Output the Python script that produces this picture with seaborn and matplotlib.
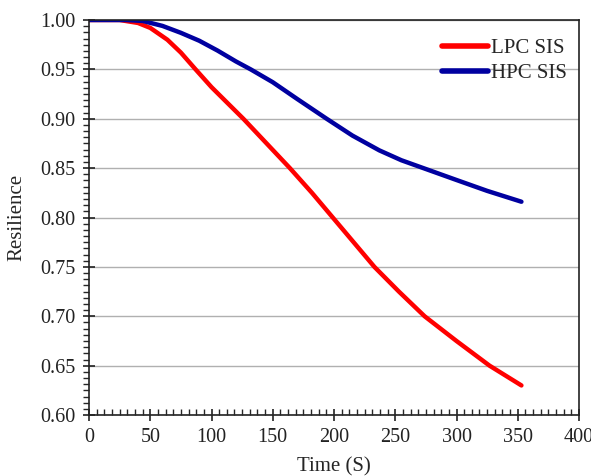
import pandas as pd
import seaborn as sns
import matplotlib.pyplot as plt
from matplotlib.ticker import AutoMinorLocator, MultipleLocator

# values
time_lpc = [0, 25, 40, 50, 64, 75, 87, 100, 113, 126, 145, 164, 182, 199, 216, 233, 253,
            274, 300, 327, 353]
res_lpc = [1.0, 1.0, 0.997, 0.992, 0.980, 0.967, 0.950, 0.932, 0.916, 0.900, 0.875, 0.850,
           0.825, 0.800, 0.775, 0.750, 0.725, 0.700, 0.675, 0.650, 0.630]
time_hpc = [0, 30, 44, 60, 75, 90, 105, 120, 132, 150, 170, 194, 215, 237, 255, 273, 300,
            325, 353]
res_hpc = [1.0, 1.0, 0.999, 0.994, 0.987, 0.979, 0.969, 0.958, 0.950, 0.937, 0.920, 0.900,
           0.883, 0.868, 0.858, 0.850, 0.838, 0.827, 0.816]

data = pd.concat([
    pd.DataFrame({'Time': time_lpc, 'Resilience': res_lpc, 'Series': 'LPC SIS'}),
    pd.DataFrame({'Time': time_hpc, 'Resilience': res_hpc, 'Series': 'HPC SIS'}),
])

sns.set_style('white')
plt.rcParams['font.family'] = ['Liberation Serif', 'DejaVu Serif']

fig = plt.figure(figsize=(5.91, 4.76), dpi=100)
ax = fig.add_axes([0.1506, 0.128, 0.8291, 0.830])

palette = {'LPC SIS': '#ff0000', 'HPC SIS': '#0000a0'}
sns.lineplot(data=data, x='Time', y='Resilience', hue='Series', palette=palette,
             linewidth=3.2, ax=ax, solid_capstyle='round', solid_joinstyle='round')

ax.set_xlim(0, 400)
ax.set_ylim(0.60, 1.00)
ax.xaxis.set_major_locator(MultipleLocator(50))
ax.yaxis.set_major_locator(MultipleLocator(0.05))
ax.xaxis.set_minor_locator(AutoMinorLocator(8))
ax.yaxis.set_minor_locator(AutoMinorLocator(8))
ax.yaxis.set_major_formatter(plt.FormatStrFormatter('%.2f'))

ax.tick_params(which='major', direction='inout', length=9, width=1.2, labelsize=14.5,
               bottom=True, left=True, top=False, right=False, colors='#222222', pad=5)
ax.tick_params(axis='x', which='minor', direction='in', length=4, width=1, bottom=True)
ax.tick_params(axis='y', which='minor', direction='out', length=4, width=1, left=True)

ax.grid(axis='y', color='#b0b0b0', linewidth=1)
ax.grid(axis='x', visible=False)
for s in ax.spines.values():
    s.set_color('#222222')
    s.set_linewidth(1.2)

ax.set_xlabel('Time (S)', fontsize=15, labelpad=7)
ax.set_ylabel('Resilience', fontsize=15, labelpad=10)

leg = ax.legend(loc='upper right', frameon=False, fontsize=15, handlelength=2.2,
                handletextpad=0.15, borderaxespad=0.2, labelspacing=0.25,
                bbox_to_anchor=(1.0, 0.985))
for line in leg.get_lines():
    line.set_linewidth(4)
    line.set_solid_capstyle('round')

fig.savefig('out.png', dpi=100)
